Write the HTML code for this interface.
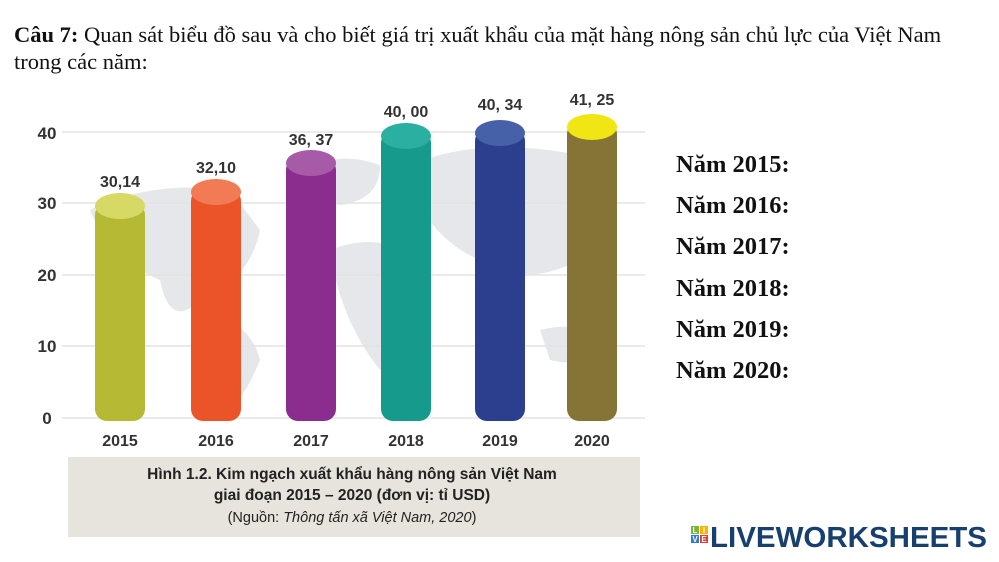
<!DOCTYPE html>
<html><head><meta charset="utf-8"><style>
body{margin:0;width:999px;height:562px;background:#fff;overflow:hidden;position:relative;font-family:"Liberation Serif",serif}
.h{position:absolute;left:14px;font-size:22.5px;color:#111;white-space:nowrap}
.n{position:absolute;left:676px;font-size:24.5px;font-weight:bold;color:#111}
</style></head><body>
<div class="h" style="top:22px"><b>Câu 7:</b> Quan sát biểu đồ sau và cho biết giá trị xuất khẩu của mặt hàng nông sản chủ lực của Việt Nam</div>
<div class="h" style="top:49px">trong các năm:</div>
<svg width="999" height="562" style="position:absolute;left:0;top:0" font-family="Liberation Sans Narrow, Liberation Sans, sans-serif">
<g fill="#e6e7ea">
<path d="M90 210 Q150 180 230 190 L260 230 Q250 280 200 300 Q170 330 160 280 Q110 260 90 210Z"/>
<path d="M200 310 Q250 320 260 360 Q240 410 220 410 Q200 360 200 310Z"/>
<path d="M300 170 Q340 150 380 165 Q380 200 340 205 Q310 200 300 170Z"/>
<path d="M330 250 Q380 230 420 260 Q430 330 380 370 Q340 320 330 250Z"/>
<path d="M400 170 Q480 130 600 160 Q630 220 580 260 Q520 290 480 260 Q430 240 400 170Z"/>
<path d="M540 330 Q580 320 600 340 Q590 370 550 360Z"/>
</g>
<g stroke="#e3e3e3" stroke-width="1.5">
<line x1="62" y1="132" x2="645" y2="132"/><line x1="62" y1="203" x2="645" y2="203"/><line x1="62" y1="275" x2="645" y2="275"/><line x1="62" y1="346" x2="645" y2="346"/><line x1="62" y1="418" x2="645" y2="418"/>
</g>
<g font-size="17" fill="#333" font-weight="bold" text-anchor="middle">
<text x="47" y="139">40</text><text x="47" y="209">30</text><text x="47" y="281">20</text><text x="47" y="352">10</text><text x="47" y="424">0</text>
</g>
<g>
<rect x="95" y="203" width="50" height="218" rx="12" fill="#b5b934"/><ellipse cx="120" cy="206" rx="25" ry="13" fill="#d6d964"/>
<rect x="191" y="189" width="50" height="232" rx="12" fill="#eb5428"/><ellipse cx="216" cy="192" rx="25" ry="13" fill="#f27a55"/>
<rect x="286" y="158" width="50" height="263" rx="12" fill="#8a2d8e"/><ellipse cx="311" cy="163" rx="25" ry="13" fill="#a75aa8"/>
<rect x="381" y="131" width="50" height="290" rx="12" fill="#169a8c"/><ellipse cx="406" cy="136" rx="25" ry="13" fill="#2aafa0"/>
<rect x="475" y="129" width="50" height="292" rx="12" fill="#2b3f8e"/><ellipse cx="500" cy="133" rx="25" ry="13" fill="#4761a8"/>
<rect x="567" y="122" width="50" height="299" rx="12" fill="#867436"/><ellipse cx="592" cy="127" rx="25" ry="13" fill="#f0e614"/>
</g>
<g font-size="16" fill="#333" font-weight="bold" text-anchor="middle">
<text x="120" y="187">30,14</text><text x="216" y="173">32,10</text><text x="311" y="145">36, 37</text><text x="406" y="117">40, 00</text><text x="500" y="110">40, 34</text><text x="592" y="105">41, 25</text>
<text x="120" y="446">2015</text><text x="216" y="446">2016</text><text x="311" y="446">2017</text><text x="406" y="446">2018</text><text x="500" y="446">2019</text><text x="592" y="446">2020</text>
</g>
<rect x="68" y="457" width="572" height="80" fill="#e6e4dc"/>
<g font-family="Liberation Sans, sans-serif" text-anchor="middle" fill="#222">
<text x="352" y="479" font-size="15.5" font-weight="bold">Hình 1.2. Kim ngạch xuất khẩu hàng nông sản Việt Nam</text>
<text x="352" y="500" font-size="15.5" font-weight="bold">giai đoạn 2015 – 2020 (đơn vị: tỉ USD)</text>
<text x="352" y="522" font-size="14.5">(Nguồn: <tspan font-style="italic">Thông tấn xã Việt Nam, 2020</tspan>)</text>
</g>
<g font-family="Liberation Sans, sans-serif" font-weight="bold" font-size="8" fill="#fff" text-anchor="middle">
<rect x="691" y="526" width="8" height="8" fill="#7cb342"/><rect x="700" y="526" width="8" height="8" fill="#f5b400"/>
<rect x="691" y="535" width="8" height="8" fill="#2e7dd1"/><rect x="700" y="535" width="8" height="8" fill="#e53935"/>
<text x="695" y="533">L</text><text x="704" y="533">I</text><text x="695" y="542">V</text><text x="704" y="542">E</text>
</g>
<text x="710" y="547" font-family="Liberation Sans, sans-serif" font-weight="bold" font-size="29" fill="#17406e" textLength="277" lengthAdjust="spacingAndGlyphs">LIVEWORKSHEETS</text>
</svg>
<div class="n" style="top:151px">Năm 2015:</div>
<div class="n" style="top:192px">Năm 2016:</div>
<div class="n" style="top:233px">Năm 2017:</div>
<div class="n" style="top:275px">Năm 2018:</div>
<div class="n" style="top:316px">Năm 2019:</div>
<div class="n" style="top:357px">Năm 2020:</div>
</body></html>
